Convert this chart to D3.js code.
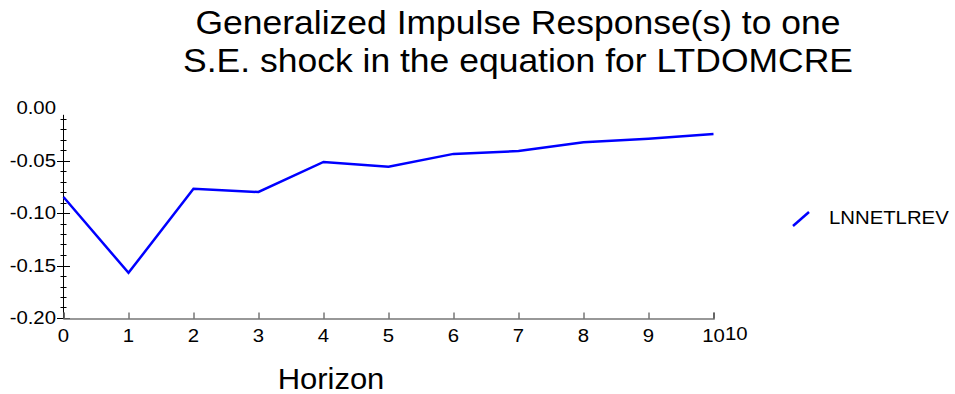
<!DOCTYPE html>
<html>
<head>
<meta charset="utf-8">
<style>
  body { margin: 0; background: #fff; }
  svg { font-family: "Liberation Sans", Arial, sans-serif; }
</style>
</head>
<body>
<svg width="955" height="394"></svg>
<script src="https://d3js.org/d3.v7.min.js"></script>
<script>
  // data
  var horizon = [0, 1, 2, 3, 4, 5, 6, 7, 8, 9, 10];
  var lnnetlrev = [-0.0848, -0.157, -0.077, -0.080, -0.0514, -0.056, -0.0437, -0.041, -0.0326, -0.0293, -0.0248];
  var yMajor = [0, -0.05, -0.10, -0.15, -0.20];
  var titleLines = ["Generalized Impulse Response(s) to one", "S.E. shock in the equation for LTDOMCRE"];
  var seriesName = "LNNETLREV";

  var svg = d3.select("svg");

  var x = d3.scaleLinear().domain([0, 10]).range([63.5, 713.5]);
  var y = d3.scaleLinear().domain([0, -0.20]).range([108, 318]);

  // title, slightly wide lettering like the original
  svg.append("g").selectAll("text")
    .data(titleLines)
    .enter().append("text")
    .attr("transform", function(d, i) { return "translate(518," + (34 + i * 38) + ") scale(1.06,1)"; })
    .attr("text-anchor", "middle")
    .attr("font-size", 33.5)
    .attr("fill", "#000")
    .text(function(d) { return d; });

  // y axis: minor ticks every 0.01, major every 0.05
  var yMinor = d3.range(1, 21).map(function(i) { return -i / 100; });
  var yAx = svg.append("g");
  yAx.append("line")
    .attr("x1", 63.5).attr("x2", 63.5)
    .attr("y1", y(-0.0065)).attr("y2", y(-0.20))
    .attr("stroke", "#000");
  yAx.selectAll(".tk")
    .data(yMinor)
    .enter().append("line")
    .attr("x1", function(d) { return Math.abs(d * 100) % 5 === 0 ? 57 : 60.5; })
    .attr("x2", function(d) { return Math.abs(d * 100) % 5 === 0 ? 70 : 66.5; })
    .attr("y1", function(d) { return Math.round(y(d)) + 0.5; })
    .attr("y2", function(d) { return Math.round(y(d)) + 0.5; })
    .attr("stroke", "#000");
  yAx.selectAll(".lbl")
    .data(yMajor)
    .enter().append("text")
    .attr("transform", function(d) { return "translate(56," + (y(d) + 6) + ") scale(1.1,1)"; })
    .attr("text-anchor", "end")
    .attr("font-size", 18.5)
    .text(function(d) { return d3.format(".2f")(d).replace("−", "-"); });

  // x axis
  var xAx = svg.append("g").attr("transform", "translate(0,318.5)")
    .call(d3.axisTop(x).tickValues(horizon).tickSize(6).tickFormat(""));
  xAx.select(".domain").attr("stroke", "#777").attr("stroke-width", 1.5);
  xAx.selectAll(".tick line").attr("stroke", "#333");
  svg.append("g").selectAll("text")
    .data(horizon)
    .enter().append("text")
    .attr("transform", function(d) { return "translate(" + x(d) + ",342) scale(1.1,1)"; })
    .attr("text-anchor", "middle")
    .attr("font-size", 18.5)
    .text(function(d) { return d; });
  svg.append("text")
    .attr("transform", "translate(725,340) scale(1.1,1)")
    .attr("font-size", 18.5)
    .text("10");

  svg.append("text")
    .attr("transform", "translate(331,389) scale(1.05,1)")
    .attr("text-anchor", "middle")
    .attr("font-size", 29.5)
    .text("Horizon");

  // series line
  var line = d3.line()
    .x(function(d, i) { return x(horizon[i]); })
    .y(function(d) { return y(d); });
  svg.append("path")
    .datum(lnnetlrev)
    .attr("d", line)
    .attr("fill", "none")
    .attr("stroke", "#0000ff")
    .attr("stroke-width", 2.5);

  // legend
  var leg = svg.append("g");
  leg.append("line")
    .attr("x1", 793).attr("y1", 226)
    .attr("x2", 809).attr("y2", 212)
    .attr("stroke", "#0000ff").attr("stroke-width", 2.5);
  leg.append("text")
    .attr("transform", "translate(829,224) scale(1.13,1)")
    .attr("font-size", 18)
    .text(seriesName);
</script>
</body>
</html>
